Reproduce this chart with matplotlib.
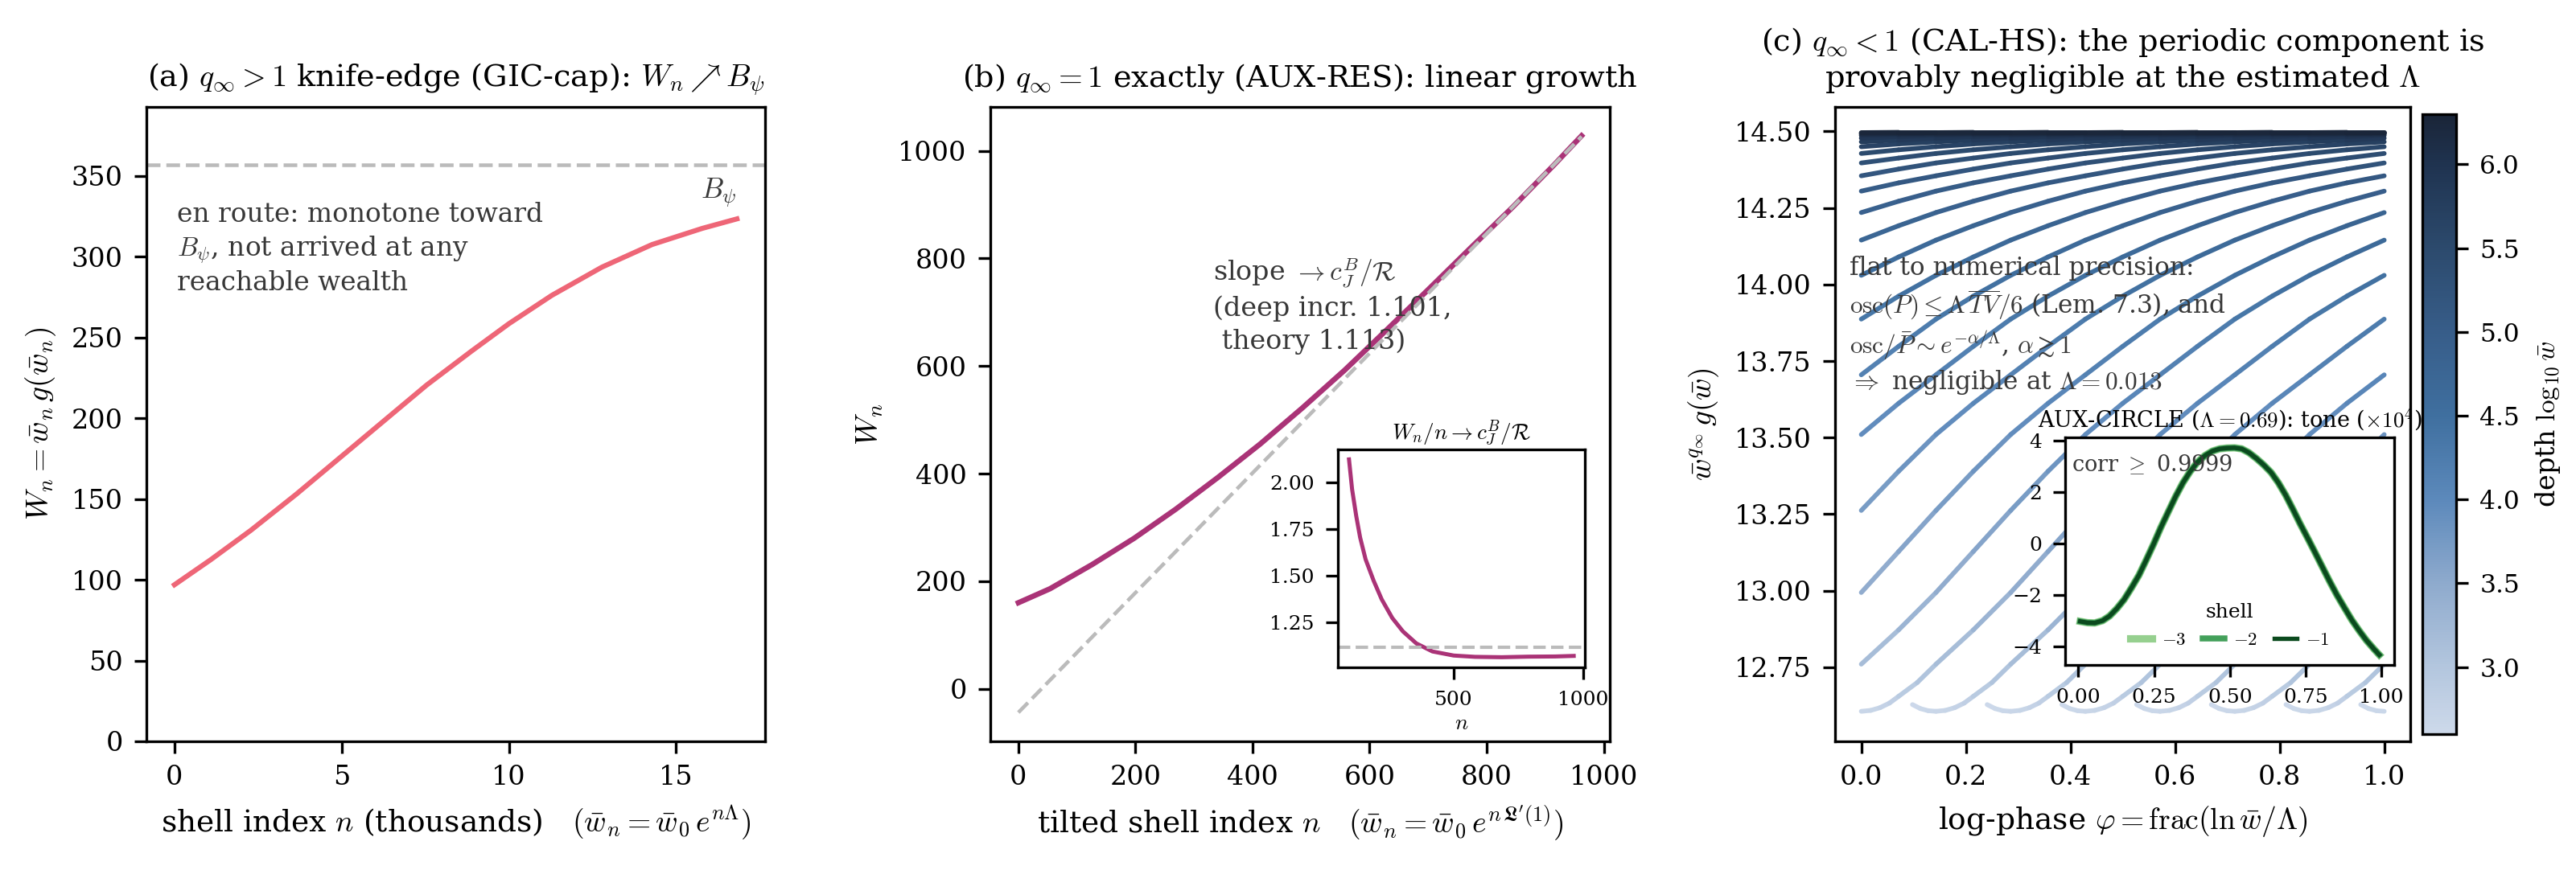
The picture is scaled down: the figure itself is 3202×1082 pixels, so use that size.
import numpy as np
import matplotlib
matplotlib.use("Agg")
import matplotlib.pyplot as plt
from matplotlib.colors import LinearSegmentedColormap, Normalize
from matplotlib.cm import ScalarMappable
from matplotlib.collections import LineCollection

plt.rcParams.update({
    "font.family": ["DejaVu Serif"],
    "mathtext.fontset": "cm",
    "font.size": 8,
    "axes.titlesize": 9.2,
    "axes.labelsize": 9,
    "xtick.labelsize": 8,
    "ytick.labelsize": 8,
})

# ---------------- data: panel (a) ----------------
a_shell_k = [0.0, 1.09, 2.29, 3.64, 4.99, 6.19, 7.54, 8.88, 10.0, 11.28, 12.78, 14.28, 15.78, 16.82]
a_wealth = [96.9, 112.5, 130.7, 152.9, 176.3, 197.1, 220.5, 241.5, 258.5, 276.0, 293.5, 307.5, 317.5, 323.4]
a_bpsi = 357.0

# ---------------- data: panel (b) ----------------
b_shell = [0, 54, 126, 198, 269, 341, 413, 485, 557, 628, 700, 772, 844, 916, 962]
b_wealth = [160, 186, 231, 280, 334, 393, 455, 522, 592, 666, 742, 819, 895, 975, 1028]
b_theory_slope = 1.113
b_theory_intercept = -44.0
b_ratio_n = [96, 108, 124, 139, 160, 191, 222, 263, 304, 356, 418, 500, 582, 685, 788, 891, 963]
b_ratio = [2.126, 1.964, 1.820, 1.705, 1.588, 1.473, 1.373, 1.272, 1.200, 1.135, 1.092,
           1.070, 1.063, 1.061, 1.064, 1.065, 1.068]

# ---------------- data: panel (c) ----------------
# the sampled curve  w^q g(w)  along the (aliased) shell parameter t, with its depth
c_t = ([-0.045, -0.03, -0.015, 0.0, 0.018, 0.036, 0.054, 1 / 14, 0.107]
       + [k / 14 for k in range(2, 43)])
c_value = [12.628, 12.615, 12.608, 12.606, 12.609, 12.618, 12.633, 12.655, 12.700,
           12.760, 12.872, 12.994, 13.128, 13.262, 13.390, 13.510, 13.612,
           13.705, 13.798, 13.887, 13.962, 14.030, 14.090, 14.145, 14.192, 14.235, 14.272,
           14.305, 14.332, 14.355, 14.377, 14.397, 14.413, 14.428, 14.440, 14.450, 14.459,
           14.466, 14.472, 14.478, 14.483, 14.487, 14.489, 14.491, 14.493, 14.494, 14.495,
           14.496, 14.497, 14.497]
c_depth = [2.62, 2.63, 2.64, 2.65, 2.68, 2.72, 2.78, 2.85, 2.97,
           3.10, 3.25, 3.40, 3.52, 3.65, 3.78, 3.90, 4.00,
           4.10, 4.20, 4.30, 4.40, 4.50, 4.60, 4.70, 4.78, 4.85, 4.93,
           5.00, 5.08, 5.15, 5.22, 5.30, 5.38, 5.45, 5.52, 5.60, 5.68,
           5.75, 5.82, 5.90, 5.95, 6.00, 6.05, 6.10, 6.14, 6.18, 6.21,
           6.24, 6.26, 6.28]
c_phase_offsets = [0 / 7, 1 / 7, 2 / 7, 3 / 7, 4 / 7, 5 / 7, 6 / 7]
c_depth_range = (2.6, 6.3)

# inset (c): AUX-CIRCLE tone
tone_phase = [0.006, 0.03, 0.054, 0.08, 0.103, 0.127, 0.151, 0.175, 0.2, 0.224, 0.248, 0.272,
              0.297, 0.321, 0.345, 0.369, 0.393, 0.418, 0.442, 0.466, 0.49, 0.515, 0.539,
              0.563, 0.587, 0.611, 0.636, 0.66, 0.684, 0.708, 0.732, 0.757, 0.781, 0.805,
              0.829, 0.853, 0.878, 0.902, 0.926, 0.95, 0.975, 0.993]
tone_vals = [-3.03, -3.08, -3.09, -3.00, -2.82, -2.53, -2.18, -1.73, -1.23, -0.64, -0.03, 0.62,
             1.24, 1.83, 2.36, 2.80, 3.16, 3.42, 3.59, 3.68, 3.71, 3.72, 3.68,
             3.53, 3.31, 3.06, 2.76, 2.36, 1.88, 1.33, 0.76, 0.20, -0.35, -0.91,
             -1.47, -2.00, -2.50, -2.97, -3.38, -3.76, -4.10, -4.33]
shells = [-3, -2, -1]

# ---------------- styles ----------------
C_RED = "#EE6677"
C_PURPLE = "#AA3377"
C_GREY = "#BBBBBB"
TXT = "0.22"
shell_colors = ["#96d08f", "#43a05a", "#0b4a1e"]
depth_cmap = LinearSegmentedColormap.from_list(
    "depth",
    [(0.0, "#cdd9ea"), (0.108, "#b3c6de"), (0.243, "#8eaacd"), (0.378, "#5c89bb"),
     (0.514, "#3f6f9f"), (0.649, "#375d89"), (0.784, "#2c4a6d"), (0.919, "#1f3350"),
     (1.0, "#1a2538")])
depth_norm = Normalize(*c_depth_range)

fig = plt.figure(figsize=(3202 / 300, 1082 / 300), dpi=300)
axA = fig.add_axes([0.0568, 0.1479, 0.2402, 0.7292])
axB = fig.add_axes([0.3844, 0.1479, 0.2405, 0.7292])
axC = fig.add_axes([0.7124, 0.1479, 0.2233, 0.7292])
cax = fig.add_axes([0.9404, 0.1562, 0.0131, 0.7126])

# ---- (a) ----
axA.plot(a_shell_k, a_wealth, color=C_RED, lw=1.5)
axA.axhline(a_bpsi, color=C_GREY, ls="--", lw=1.1)
axA.set_ylim(0, 1.1 * a_bpsi)
axA.text(a_shell_k[-1], a_wealth[-1] + 6, r"$B_\psi$", ha="right", va="bottom",
         color=TXT, fontsize=8.5)
axA.text(0.05, 0.85, "en route: monotone toward\n$B_\\psi$, not arrived at any\nreachable wealth",
         transform=axA.transAxes, ha="left", va="top", fontsize=7.9, color=TXT, linespacing=1.3)
axA.set_xticks([0, 5, 10, 15])
axA.set_yticks(np.arange(0, 351, 50))
axA.set_xlabel(r"shell index $n$ (thousands)   $(\bar w_n=\bar w_0\,e^{n\Lambda})$")
axA.set_ylabel(r"$W_n=\bar w_n\,g(\bar w_n)$")
axA.set_title(r"(a) $q_\infty>1$ knife-edge (GIC-cap): $W_n\nearrow B_\psi$")

# ---- (b) ----
axB.plot(b_shell, b_wealth, color=C_PURPLE, lw=1.6)
b_line_x = np.array([b_shell[0], b_shell[-1]], dtype=float)
axB.plot(b_line_x, b_theory_intercept + b_theory_slope * b_line_x, color=C_GREY, ls="--", lw=1.1)
axB.text(0.36, 0.765, "slope $\\to c_J^B/\\mathcal{R}$\n(deep incr. 1.101,\n theory 1.113)",
         transform=axB.transAxes, ha="left", va="top", fontsize=8, color=TXT, linespacing=1.3)
axB.set_xticks([0, 200, 400, 600, 800, 1000])
axB.set_yticks([0, 200, 400, 600, 800, 1000])
axB.set_xlabel(r"tilted shell index $n$   $(\bar w_n=\bar w_0\,e^{n\,\mathfrak{L}'(1)})$")
axB.set_ylabel(r"$W_n$")
axB.set_title(r"(b) $q_\infty=1$ exactly (AUX-RES): linear growth")

axIB = axB.inset_axes([0.561, 0.117, 0.399, 0.343])
axIB.plot(b_ratio_n, b_ratio, color=C_PURPLE, lw=1.2)
axIB.axhline(b_theory_slope, color=C_GREY, ls="--", lw=1.0)
axIB.set_yticks([1.25, 1.5, 1.75, 2.0])
axIB.set_xticks([500, 1000])
axIB.tick_params(labelsize=6)
axIB.set_xlabel(r"$n$", fontsize=6.5, labelpad=1)
axIB.set_title(r"$W_n/n\to c_J^B/\mathcal{R}$", fontsize=6.5, pad=3)

# ---- (c) ----
segs, seg_depth = [], []
t_arr = np.array(c_t)
v_arr = np.array(c_value)
d_arr = np.array(c_depth)
for off in c_phase_offsets:
    x = t_arr + off
    for i in range(len(x) - 1):
        n = np.floor(0.5 * (x[i] + x[i + 1]))
        segs.append([(x[i] - n, v_arr[i]), (x[i + 1] - n, v_arr[i + 1])])
        seg_depth.append(0.5 * (d_arr[i] + d_arr[i + 1]))
order = np.argsort(seg_depth)
lc = LineCollection([segs[i] for i in order],
                    colors=[depth_cmap(depth_norm(seg_depth[i])) for i in order],
                    linewidths=1.4, capstyle="round", joinstyle="round")
axC.add_collection(lc)
axC.set_xlim(-0.05, 1.05)
axC.set_ylim(12.508, 14.58)
axC.set_xticks([0.0, 0.2, 0.4, 0.6, 0.8, 1.0])
axC.set_yticks([12.75, 13.0, 13.25, 13.5, 13.75, 14.0, 14.25, 14.5])
axC.text(0.025, 0.765,
         "flat to numerical precision:\n"
         "$\\mathrm{osc}(P)\\leq\\Lambda\\,\\overline{TV}/6$ (Lem. 7.3), and\n"
         "$\\mathrm{osc}/\\bar{P}\\sim e^{-\\alpha/\\Lambda}$, $\\alpha\\gtrsim 1$\n"
         "$\\Rightarrow$ negligible at $\\Lambda=0.013$",
         transform=axC.transAxes, ha="left", va="top", fontsize=7.5, color=TXT, linespacing=1.3)
axC.set_xlabel(r"log-phase $\varphi=\mathrm{frac}(\ln\bar w/\Lambda)$")
axC.set_ylabel(r"$\bar w^{q_\infty}\,g(\bar w)$")
axC.set_title("(c) $q_\\infty<1$ (CAL-HS): the periodic component is\n"
              "provably negligible at the estimated $\\Lambda$")

cb = fig.colorbar(ScalarMappable(norm=depth_norm, cmap=depth_cmap), cax=cax)
cb.set_ticks([3.0, 3.5, 4.0, 4.5, 5.0, 5.5, 6.0])
cb.set_label(r"depth $\log_{10}\bar w$", fontsize=8)
cb.ax.tick_params(labelsize=7.5)

axIC = axC.inset_axes([0.40, 0.12, 0.572, 0.359])
for s, col, lw in zip(shells, shell_colors, [2.2, 1.8, 1.3]):
    axIC.plot(tone_phase, tone_vals, color=col, lw=lw, label=f"${s}$")
axIC.set_xticks([0.0, 0.25, 0.5, 0.75, 1.0])
axIC.set_yticks([-4, -2, 0, 2, 4])
axIC.tick_params(labelsize=6)
axIC.set_title(r"AUX-CIRCLE ($\Lambda=0.69$): tone ($\times10^4$)", fontsize=6.5, pad=3)
axIC.text(0.02, 0.93, r"corr $\geq$ 0.9999", transform=axIC.transAxes, ha="left", va="top",
          fontsize=6.5, color=TXT)
axIC.legend(title="shell", ncol=3, loc="lower center", frameon=False, fontsize=5.5,
            title_fontsize=6, handlelength=1.2, columnspacing=0.9, handletextpad=0.5)

fig.savefig("out.png", dpi=300)
